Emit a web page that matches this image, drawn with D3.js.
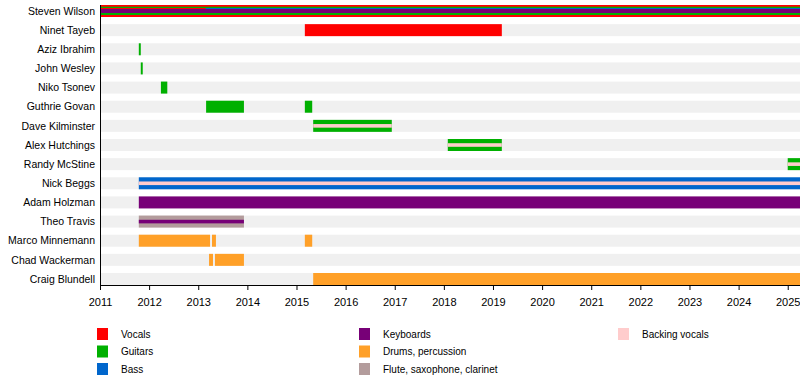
<!DOCTYPE html>
<html><head><meta charset="utf-8">
<script src="https://cdn.jsdelivr.net/npm/d3@7"></script>
<style>body{margin:0;background:#fff}svg{display:block;font-family:"Liberation Sans",Arial,sans-serif}</style>
</head><body><svg id="c" width="800" height="385"></svg>
<script>
const members = ["Steven Wilson","Ninet Tayeb","Aziz Ibrahim","John Wesley","Niko Tsonev","Guthrie Govan","Dave Kilminster","Alex Hutchings","Randy McStine","Nick Beggs","Adam Holzman","Theo Travis","Marco Minnemann","Chad Wackerman","Craig Blundell"];
const roles = ["Vocals","Guitars","Bass","Keyboards","Drums, percussion","Flute, saxophone, clarinet","Backing vocals"];
const roleColors = ["#ff0000","#00b000","#0066cc","#770077","#ffa028","#b39c9c","#ffcccc"];
const years = [2011,2012,2013,2014,2015,2016,2017,2018,2019,2020,2021,2022,2023,2024,2025];
const endYear = 2025.25;
// [member, role, start, end, layer]  layer: 0 full, others inner strips
const periods = [
 ["Steven Wilson","Vocals",2011,endYear,0],
 ["Steven Wilson","Guitars",2011,endYear,1],
 ["Steven Wilson","Vocals",2011,endYear,2],
 ["Steven Wilson","Bass",2013.15,endYear,2],
 ["Steven Wilson","Keyboards",2011,endYear,3],
 ["Ninet Tayeb","Vocals",2015.17,2019.18,0],
 ["Aziz Ibrahim","Guitars",2011.79,2011.83,0],
 ["John Wesley","Guitars",2011.83,2011.87,0],
 ["Niko Tsonev","Guitars",2012.24,2012.37,0],
 ["Guthrie Govan","Guitars",2013.16,2013.93,0],
 ["Guthrie Govan","Guitars",2015.17,2015.32,0],
 ["Dave Kilminster","Guitars",2015.34,2016.94,0],
 ["Dave Kilminster","Backing vocals",2015.34,2016.94,4],
 ["Alex Hutchings","Guitars",2018.08,2019.18,0],
 ["Alex Hutchings","Backing vocals",2018.08,2019.18,4],
 ["Randy McStine","Guitars",2025.0,endYear,0],
 ["Randy McStine","Backing vocals",2025.0,endYear,4],
 ["Nick Beggs","Bass",2011.79,endYear,0],
 ["Nick Beggs","Backing vocals",2011.79,endYear,4],
 ["Adam Holzman","Keyboards",2011.79,endYear,0],
 ["Theo Travis","Flute, saxophone, clarinet",2011.79,2013.93,0],
 ["Theo Travis","Keyboards",2011.79,2013.93,4],
 ["Marco Minnemann","Drums, percussion",2011.79,2013.24,0],
 ["Marco Minnemann","Drums, percussion",2013.28,2013.36,0],
 ["Marco Minnemann","Drums, percussion",2015.17,2015.32,0],
 ["Chad Wackerman","Drums, percussion",2013.22,2013.30,0],
 ["Chad Wackerman","Drums, percussion",2013.34,2013.93,0],
 ["Craig Blundell","Drums, percussion",2015.34,endYear,0]
];

const svg = d3.select("#c");
const x = d3.scaleLinear().domain([2011,endYear]).range([100,800]);
const y = d3.scaleBand().domain(members).range([5,285]).paddingInner(0.373).paddingOuter(0);
const color = d3.scaleOrdinal().domain(roles).range(roleColors);
const bw = y.bandwidth();
// strip [top offset, bottom offset] within the 12px band, per layer
const strips = {0:[0,12],1:[1.7,10],2:[3,4],3:[4,8],4:[4.2,7.8]};

svg.append("g").selectAll("rect").data(members).join("rect")
  .attr("x",100).attr("width",700).attr("y",d=>y(d)).attr("height",bw).attr("fill","#f0f0f0");

svg.append("g").selectAll("rect").data(periods).join("rect")
  .attr("x",d=>x(d[2])).attr("width",d=>Math.max(x(d[3])-x(d[2]),1))
  .attr("y",d=>y(d[0])+strips[d[4]][0]*bw/12)
  .attr("height",d=>(strips[d[4]][1]-strips[d[4]][0])*bw/12)
  .attr("fill",d=>color(d[1]));

svg.append("g").selectAll("text").data(members).join("text")
  .attr("x",95).attr("y",d=>y(d)+bw/2).attr("dy","0.35em")
  .attr("text-anchor","end").attr("font-size",10.5).attr("fill","#000").text(d=>d);

const ax = svg.append("g").attr("transform","translate(0,285)")
  .call(d3.axisBottom(x).tickValues(years).tickFormat(d3.format("d")).tickSize(5).tickSizeOuter(0));
ax.select(".domain").attr("stroke","#000");
ax.selectAll("text").attr("font-size",11).attr("font-family","Liberation Sans, Arial, sans-serif").attr("dy","1.2em");
svg.append("line").attr("x1",100.5).attr("x2",100.5).attr("y1",5).attr("y2",285).attr("stroke","#000");

const legCols = [[0,1,2],[3,4,5],[6]];
const legX = [97,359,618];
legCols.forEach((col,ci)=>{
  col.forEach((ri,k)=>{
    const cy = 334 + k*17.5;
    svg.append("rect").attr("x",legX[ci]).attr("y",cy-6).attr("width",11).attr("height",12).attr("fill",roleColors[ri]);
    svg.append("text").attr("x",legX[ci]+24).attr("y",cy).attr("dy","0.35em").attr("font-size",10).text(roles[ri]);
  });
});
</script></body></html>
